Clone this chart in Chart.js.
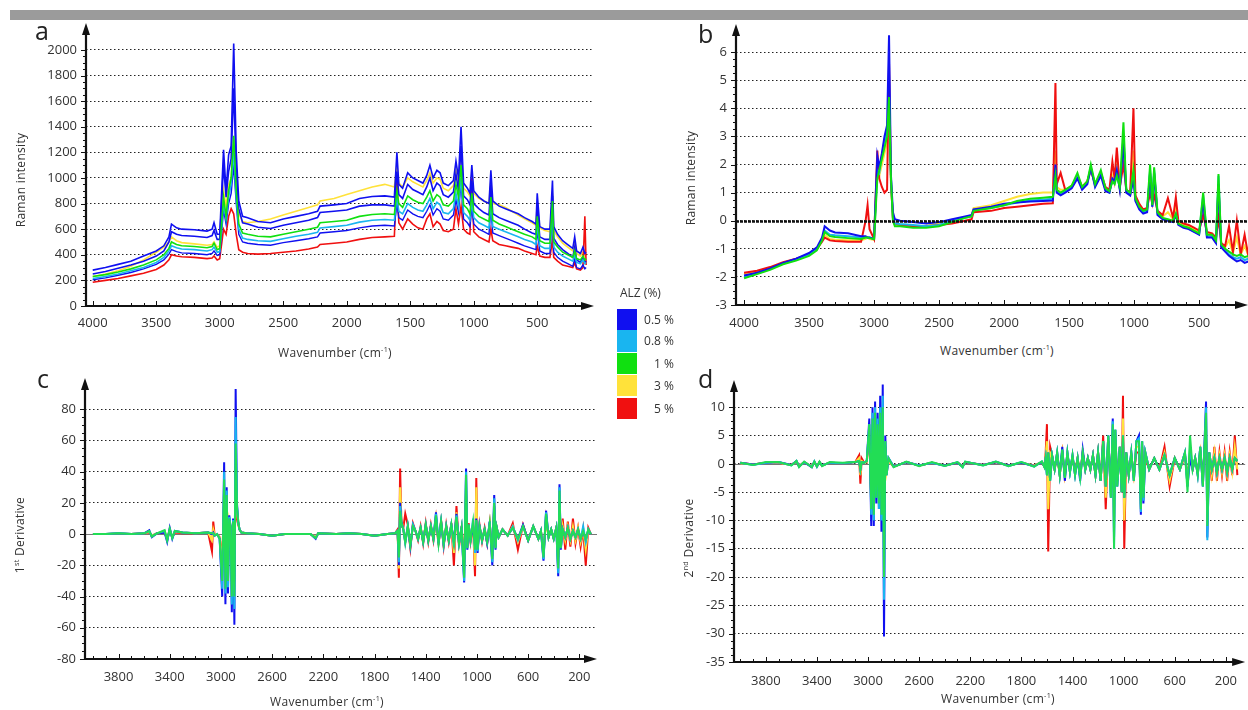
<!DOCTYPE html>
<html>
<head>
<meta charset="utf-8">
<script src="https://cdn.jsdelivr.net/npm/chart.js@4.4.1/dist/chart.umd.min.js"></script>
<style>
  html, body { margin:0; padding:0; background:#fff; }
  body { width:1248px; height:710px; position:relative; overflow:hidden; font-family:'Open Sans','DejaVu Sans',sans-serif; color:#333; }
  canvas { position:absolute; }
  .bar { position:absolute; left:10px; top:10px; width:1238px; height:10px; background:#9b9b9b; z-index:2; }
  .letter { position:absolute; font-size:25px; line-height:1; color:#222; }
  .ttl { position:absolute; font-size:12px; white-space:nowrap; transform:translate(-50%,-50%); color:#333; letter-spacing:0.3px; }
  .ttl.v { transform:translate(-50%,-50%) rotate(-90deg); }
  sup { font-size:0.6em; line-height:0; vertical-align:0.6em; }
  .lg-title { position:absolute; left:620px; top:284px; font-size:12px; }
  .lg-box { position:absolute; left:617px; width:20px; }
  .lg-txt { position:absolute; left:630px; width:44px; text-align:right; font-size:12px; }
</style>
</head>
<body>
<div class="bar"></div>
<canvas id="chart-a" width="610" height="340" style="left:0;top:0"></canvas>
<canvas id="chart-b" width="628" height="340" style="left:620px;top:0"></canvas>
<canvas id="chart-c" width="610" height="350" style="left:0;top:360px"></canvas>
<canvas id="chart-d" width="628" height="350" style="left:620px;top:360px"></canvas>

<div class="letter" style="left:35px;top:18px">a</div>
<div class="letter" style="left:698px;top:21px">b</div>
<div class="letter" style="left:37px;top:366px">c</div>
<div class="letter" style="left:698px;top:366px">d</div>

<div class="ttl v" style="left:20px;top:180px">Raman intensity</div>
<div class="ttl" style="left:335px;top:352px">Wavenumber (cm<sup>-1</sup>)</div>
<div class="ttl v" style="left:690px;top:178px">Raman intensity</div>
<div class="ttl" style="left:997px;top:350px">Wavenumber (cm<sup>-1</sup>)</div>
<div class="ttl v" style="left:19px;top:535px">1<sup>st</sup> Derivative</div>
<div class="ttl" style="left:327px;top:701px">Wavenumber (cm<sup>-1</sup>)</div>
<div class="ttl v" style="left:688px;top:538px">2<sup>nd</sup> Derivative</div>
<div class="ttl" style="left:998px;top:698px">Wavenumber (cm<sup>-1</sup>)</div>

<div id="legend"></div>

<script>
'use strict';

// ---- legend / series ----
const groups = ['0.5 %', '0.8 %', '1 %', '3 %', '5 %'];
const groupColors = ['#1010f0', '#19b5f0', '#10e010', '#ffe23a', '#f01010'];

// ---- ticks ----
const xTicksAB = [4000, 3500, 3000, 2500, 2000, 1500, 1000, 500];
const xTicksCD = [3800, 3400, 3000, 2600, 2200, 1800, 1400, 1000, 600, 200];
const yTicksA = [0, 200, 400, 600, 800, 1000, 1200, 1400, 1600, 1800, 2000];
const yTicksB = [-3, -2, -1, 0, 1, 2, 3, 4, 5, 6];
const yTicksC = [-80, -60, -40, -20, 0, 20, 40, 60, 80];
const yTicksD = [-35, -30, -25, -20, -15, -10, -5, 0, 5, 10];

// ---- panel a: raw spectra ----
const wnA = [
  4000, 3900, 3800, 3700, 3600, 3500, 3440, 3400, 3380, 3340,
  3300, 3200, 3100, 3060, 3045, 3020, 3000, 2970, 2950, 2930,
  2910, 2890, 2870, 2850, 2820, 2780, 2700, 2600, 2500, 2400,
  2300, 2230, 2210, 2100, 2000, 1900, 1800, 1700, 1625, 1605,
  1590, 1560, 1520, 1480, 1440, 1400, 1370, 1345, 1320, 1290,
  1265, 1240, 1200, 1160, 1140, 1120, 1100, 1080, 1050, 1030,
  1015, 1000, 960, 920, 880, 865, 850, 800, 750, 700,
  650, 600, 540, 510, 500, 480, 440, 400, 380, 370,
  340, 300, 260, 220, 205, 190, 160, 140, 125, 115
];
const rawBlue1 = [
  280, 300, 325, 350, 390, 430, 470, 540, 640, 610,
  600, 595, 585, 600, 650, 560, 560, 1220, 900, 1180,
  1250, 2050, 1200, 820, 700, 690, 660, 650, 680, 700,
  720, 740, 780, 790, 800, 840, 855, 860, 850, 1200,
  950, 920, 1040, 1000, 980, 960, 1020, 1100, 1000, 1060,
  1040, 960, 940, 980, 1130, 1000, 1400, 960, 920, 880,
  1100, 900, 850, 820, 800, 1060, 820, 780, 760, 740,
  720, 690, 660, 640, 880, 620, 600, 600, 980, 620,
  560, 510, 480, 450, 540, 430, 410, 460, 410, 420
];
const rawYellow = [
  230, 250, 275, 310, 360, 420, 460, 500, 540, 510,
  495, 485, 475, 480, 500, 460, 470, 900, 780, 950,
  1000, 1300, 950, 720, 660, 650, 660, 680, 710, 740,
  770, 790, 820, 840, 870, 900, 930, 950, 930, 1100,
  960, 930, 1000, 970, 950, 930, 980, 1040, 960, 1000,
  990, 920, 900, 940, 1060, 950, 1250, 920, 890, 860,
  1040, 880, 840, 820, 800, 980, 800, 790, 770, 740,
  710, 680, 650, 630, 800, 610, 590, 580, 880, 590,
  540, 490, 460, 430, 500, 410, 390, 420, 390, 400
];
const rawBlue2 = [
  250, 270, 295, 320, 350, 390, 430, 500, 580, 560,
  550, 545, 535, 550, 590, 520, 520, 1100, 850, 1050,
  1150, 1700, 1050, 760, 650, 640, 615, 605, 630, 650,
  670, 690, 730, 740, 750, 780, 790, 790, 780, 1050,
  870, 840, 950, 910, 890, 870, 930, 1000, 900, 960,
  940, 870, 850, 890, 1030, 900, 1250, 860, 830, 790,
  980, 800, 760, 730, 710, 950, 720, 690, 670, 650,
  630, 600, 570, 560, 780, 540, 520, 520, 860, 530,
  480, 440, 410, 380, 460, 360, 340, 380, 340, 350
];
const rawGreen = [
  230, 245, 265, 290, 320, 360, 400, 450, 500, 480,
  470, 465, 455, 465, 490, 440, 450, 850, 700, 900,
  1000, 1330, 900, 640, 570, 560, 545, 540, 560, 580,
  600, 615, 650, 660, 670, 700, 715, 720, 715, 900,
  800, 770, 860, 830, 810, 800, 850, 900, 820, 870,
  850, 790, 780, 820, 950, 850, 1100, 790, 760, 720,
  880, 740, 700, 680, 660, 850, 670, 640, 620, 600,
  580, 560, 540, 520, 700, 510, 490, 490, 820, 500,
  460, 420, 400, 380, 430, 370, 360, 390, 360, 370
];
const rawCyan = [
  215, 230, 250, 275, 300, 340, 380, 430, 470, 455,
  445, 440, 430, 440, 460, 420, 425, 800, 680, 850,
  950, 1200, 850, 600, 530, 520, 510, 505, 525, 545,
  560, 575, 610, 620, 630, 655, 670, 675, 670, 850,
  740, 720, 800, 770, 750, 740, 790, 840, 760, 810,
  790, 730, 720, 760, 880, 780, 1000, 730, 700, 670,
  820, 690, 650, 630, 610, 800, 620, 600, 580, 560,
  540, 520, 500, 480, 650, 470, 450, 450, 760, 460,
  420, 390, 370, 350, 400, 340, 330, 360, 330, 340
];
const rawBlue3 = [
  205, 220, 240, 262, 290, 325, 360, 405, 440, 425,
  415, 410, 400, 410, 430, 395, 400, 750, 640, 800,
  880, 1100, 800, 560, 500, 490, 480, 475, 495, 510,
  525, 540, 570, 580, 590, 610, 625, 630, 625, 800,
  690, 670, 750, 720, 700, 690, 740, 790, 710, 760,
  740, 680, 670, 710, 830, 730, 960, 680, 650, 620,
  770, 640, 600, 580, 560, 760, 570, 550, 530, 510,
  490, 470, 450, 440, 600, 430, 410, 410, 720, 420,
  380, 350, 330, 310, 370, 300, 290, 320, 290, 300
];
const rawRed = [
  185, 200, 215, 235, 255, 285, 320, 360, 400, 390,
  385, 380, 370, 375, 390, 360, 370, 600, 560, 700,
  760, 720, 560, 440, 420, 410, 405, 410, 420, 430,
  445, 460, 480, 490, 500, 520, 535, 540, 545, 1000,
  650, 600, 680, 640, 610, 600, 680, 720, 620, 660,
  640, 590, 580, 600, 760, 640, 780, 600, 570, 560,
  1000, 580, 540, 520, 500, 600, 510, 480, 470, 460,
  450, 430, 410, 400, 470, 390, 380, 380, 520, 380,
  350, 320, 310, 300, 340, 290, 280, 300, 700, 320
];

// ---- panel b: normalised spectra ----
const wnB = [
  4000, 3900, 3800, 3700, 3600, 3500, 3440, 3400, 3380, 3340,
  3300, 3200, 3100, 3065, 3050, 3035, 3000, 2975, 2960, 2940,
  2920, 2900, 2885, 2870, 2855, 2840, 2800, 2700, 2600, 2500,
  2400, 2300, 2250, 2235, 2100, 2000, 1900, 1800, 1700, 1625,
  1605, 1595, 1565, 1530, 1480, 1436, 1400, 1360, 1333, 1300,
  1256, 1220, 1190, 1167, 1150, 1133, 1110, 1082, 1060, 1030,
  1005, 990, 960, 930, 900, 877, 860, 846, 820, 780,
  740, 700, 679, 660, 620, 580, 540, 500, 469, 440,
  400, 370, 351, 330, 300, 270, 240, 210, 180, 150,
  120, 100, 80
];
const normBlue = [
  -1.95, -1.85, -1.7, -1.5, -1.35, -1.15, -0.95, -0.6, -0.2, -0.35,
  -0.42, -0.45, -0.55, -0.55, -0.6, -0.6, -0.65, 2.3, 1.9, 2.4,
  3.0, 3.4, 6.6, 1.6, 0.3, 0.05, 0.0, -0.05, -0.1, -0.05,
  0.05, 0.15, 0.2, 0.4, 0.5, 0.6, 0.65, 0.68, 0.7, 0.72,
  2.0, 1.0, 0.9, 1.0, 1.15, 1.5, 1.1, 1.3, 1.9, 1.2,
  1.6, 1.05, 1.0, 1.5, 1.4, 1.8, 1.1, 2.8, 1.0, 0.9,
  1.5, 0.7, 0.4, 0.25, 0.3, 1.7, 0.5, 1.7, 0.2, 0.05,
  0.0, -0.05, 0.2, -0.15, -0.25, -0.3, -0.4, -0.5, 0.7, -0.6,
  -0.6, -0.8, 1.3, -0.95, -1.1, -1.25, -1.35, -1.45, -1.4, -1.5,
  -1.45, -1.5, -1.55
];
const normCyan = [
  -2.0, -1.88, -1.72, -1.52, -1.38, -1.2, -1.0, -0.65, -0.35, -0.5,
  -0.52, -0.55, -0.6, -0.58, -0.6, -0.6, -0.65, 1.8, 1.7, 2.3,
  2.8, 3.2, 4.2, 1.5, 0.1, -0.1, -0.12, -0.15, -0.2, -0.15,
  0.0, 0.1, 0.15, 0.38, 0.45, 0.55, 0.65, 0.72, 0.75, 0.78,
  1.8, 1.05, 0.95, 1.05, 1.2, 1.55, 1.15, 1.35, 1.9, 1.25,
  1.7, 1.1, 1.0, 1.45, 1.35, 1.7, 1.15, 3.0, 1.05, 0.95,
  1.6, 0.75, 0.45, 0.3, 0.35, 1.8, 0.5, 1.8, 0.25, 0.08,
  0.02, -0.02, 0.22, -0.12, -0.22, -0.28, -0.38, -0.48, 0.9, -0.55,
  -0.55, -0.75, 1.6, -0.9, -1.05, -1.2, -1.3, -1.35, -1.3, -1.4,
  -1.35, -1.4, -1.45
];
const normGreen = [
  -2.05, -1.9, -1.75, -1.55, -1.42, -1.25, -1.05, -0.7, -0.4, -0.55,
  -0.58, -0.62, -0.65, -0.6, -0.6, -0.62, -0.65, 1.5, 1.8, 2.2,
  2.6, 3.0, 4.4, 1.5, 0.0, -0.2, -0.2, -0.25, -0.25, -0.2,
  -0.05, 0.1, 0.15, 0.35, 0.45, 0.55, 0.7, 0.78, 0.82, 0.85,
  1.6, 1.1, 1.0, 1.1, 1.25, 1.7, 1.2, 1.4, 2.0, 1.3,
  1.8, 1.15, 1.05, 1.4, 1.3, 1.6, 1.2, 3.5, 1.1, 1.0,
  1.8, 0.8, 0.5, 0.35, 0.4, 2.0, 0.55, 1.9, 0.3, 0.1,
  0.05, 0.0, 0.25, -0.1, -0.2, -0.25, -0.35, -0.45, 1.0, -0.5,
  -0.5, -0.7, 1.66, -0.85, -1.0, -1.1, -1.2, -1.25, -1.2, -1.3,
  -1.25, -1.3, -1.35
];
const normYellow = [
  -1.9, -1.8, -1.68, -1.5, -1.36, -1.18, -1.0, -0.7, -0.5, -0.65,
  -0.68, -0.7, -0.7, -0.65, -0.6, -0.65, -0.68, 2.0, 1.6, 2.0,
  2.4, 2.8, 4.0, 1.4, 0.05, -0.15, -0.18, -0.2, -0.18, -0.1,
  0.0, 0.12, 0.18, 0.45, 0.55, 0.7, 0.85, 0.95, 1.0, 1.0,
  2.5, 1.2, 1.1, 1.1, 1.25, 1.6, 1.2, 1.4, 1.85, 1.3,
  1.7, 1.15, 1.05, 1.6, 1.4, 1.9, 1.15, 2.8, 1.05, 0.95,
  2.5, 0.85, 0.55, 0.4, 0.42, 1.5, 0.6, 1.5, 0.3, 0.15,
  0.3, 0.05, 0.5, -0.05, -0.15, -0.2, -0.3, -0.4, 0.6, -0.45,
  -0.5, -0.65, 1.2, -0.8, -0.95, -0.7, -1.15, -0.6, -1.2, -0.9,
  -1.25, -0.5, -1.3
];
const normRed = [
  -1.85, -1.78, -1.65, -1.48, -1.35, -1.2, -1.0, -0.75, -0.6, -0.7,
  -0.72, -0.75, -0.75, 0.0, 0.55, -0.3, -0.65, 2.5, 1.5, 1.2,
  1.0, 1.1, 5.6, 1.3, 0.1, -0.1, -0.15, -0.2, -0.2, -0.15,
  -0.1, 0.0, 0.05, 0.3, 0.35, 0.45, 0.5, 0.55, 0.6, 0.62,
  4.9, 1.3, 1.7, 1.1, 1.2, 1.6, 1.2, 1.4, 1.8, 1.3,
  1.7, 1.2, 1.1, 2.1, 1.5, 2.6, 1.2, 2.0, 1.1, 1.0,
  4.0, 0.9, 0.6, 0.4, 0.45, 1.0, 0.6, 0.9, 0.35, 0.2,
  0.8, 0.1, 0.83, 0.0, -0.1, -0.15, -0.25, -0.35, 0.2, -0.4,
  -0.45, -0.6, 0.1, -0.8, -0.9, -0.2, -1.1, 0.0, -1.2, -0.5,
  -1.3, 1.0, -1.3
];

// ---- panels c, d: derivatives (shared wavenumber grid) ----
const wnDeriv = [
  4000, 3900, 3800, 3700, 3600, 3560, 3540, 3500, 3440, 3420,
  3400, 3380, 3360, 3300, 3200, 3100, 3070, 3060, 3050, 3030,
  3010, 2990, 2975, 2965, 2955, 2945, 2935, 2925, 2915, 2905,
  2895, 2885, 2875, 2865, 2855, 2840, 2800, 2700, 2600, 2500,
  2400, 2300, 2260, 2240, 2100, 2000, 1900, 1800, 1700, 1640,
  1620, 1610, 1600, 1590, 1575, 1560, 1540, 1520, 1500, 1480,
  1460, 1440, 1420, 1400, 1380, 1360, 1340, 1320, 1300, 1280,
  1260, 1240, 1220, 1200, 1180, 1160, 1140, 1120, 1100, 1085,
  1075, 1065, 1050, 1030, 1015, 1005, 995, 980, 960, 940,
  920, 900, 880, 865, 855, 845, 830, 800, 760, 720,
  680, 640, 600, 560, 520, 500, 480, 460, 440, 420,
  400, 380, 365, 355, 345, 330, 310, 290, 270, 250,
  230, 210, 190, 170, 150, 130, 110
];
const d1Blue = [
  0, 0, 0.5, 0, 0.5, 2.5, -2, 0.5, 1, -5,
  4, -3, 2, 1, 0.5, 1, 0, 1, -1, 0,
  -3, -40, 46, -45, 30, -38, 12, 5, -50, 10,
  -58, 93, 20, 8, 3, 1, 0.5, 0, -1, 0,
  0, 0, -3, 0.5, 0, 0.5, 0, -1, 0, 0.5,
  2, -20, 20, 8, 3, -5, 5, -8, 6, 2,
  -3, 4, -5, 6, -4, 5, -3, 14, -6, 8,
  -7, 5, -4, 6, -5, 13, -6, 4, -31, 42,
  -10, 6, -4, 5, -8, 10, -12, 5, -4, 3,
  -6, 8, -20, 25, -10, 4, -2, 3, -1, 4,
  -3, 6, -4, 5, -3, 2, -17, 15, -2, 3,
  -3, 4, -27, 32, -10, 3, -2, 4, -3, 2,
  -2, 3, -3, 2, -4, 3, 0
];
const d1Cyan = [
  0, 0, 0.5, 0, 0.5, 2, -1.5, 0.5, 2, -4,
  3, -2.5, 2, 1, 0.5, 1, 0.5, 0.5, -1, 0,
  -3, -35, 40, -38, 28, -34, 11, 5, -45, 9,
  -48, 75, 18, 8, 3, 1, 0.5, 0, -1, 0,
  0, 0, -2.5, 0.5, 0, 0.5, 0, -1, 0, 0.5,
  2, -18, 18, 7, 3, -6, 5, -7, 6, 2,
  -3, 4, -5, 6, -4, 5, -3, 13, -6, 8,
  -7, 5, -4, 6, -8, 12, -6, 4, -30, 40,
  -9, 6, -4, 10, -12, 9, -11, 5, -4, 3,
  -5, 8, -18, 23, -9, 4, -2, 3, -1, 5,
  -4, 5, -4, 5, -3, 2, -16, 14, -2, 3,
  -3, 4, -25, 30, -9, 3, -2, 4, -3, 2,
  -2, 3, -3, 5, -5, 3, 0
];
const d1Green = [
  0, 0, 0.5, 0, 0.5, 2, -1.5, 0.5, 2.5, -4,
  3.5, -2.5, 2, 1, 0.5, 1, 0.5, 0.5, -1, 0,
  -3, -30, 35, -35, 25, -30, 10, 5, -40, 8,
  -40, 58, 18, 8, 3, 1, 0.5, 0, -1, 0,
  0, 0, -2.5, 0.5, 0, 0.5, 0, -1, 0, 0.5,
  2, -15, 15, 7, 3, -5, 5, -7, 5, 2,
  -3, 4, -5, 6, -4, 5, -3, 12, -6, 8,
  -6, 5, -4, 6, -6, 11, -6, 4, -28, 38,
  -9, 6, -4, 8, -10, 9, -10, 5, -4, 3,
  -5, 7, -16, 20, -9, 4, -2, 3, -1, 4,
  -3, 5, -4, 5, -3, 2, -15, 13, -2, 3,
  -3, 4, -22, 28, -9, 3, -2, 4, -3, 2,
  -2, 3, -3, 2, -3, 3, 0
];
const d1Yellow = [
  0, 0, 0.5, 0, 0.5, 1.5, -1, 0.5, 2, -3,
  3, -2, 1.5, 1, 0.5, 1, -4, 3, 0, 0,
  -2, -20, 28, -30, 18, -25, 9, 5, -30, 8,
  -30, 45, 14, 7, 3, 1, 0.5, 0, -1, 0,
  0, 0, -2, 0.5, 0, 0.5, 0, -1, 0, 0.5,
  2, -22, 30, 10, 3, -6, 5, -8, 6, 2,
  -3, 4, -5, 6, -4, 5, -3, 10, -6, 8,
  -7, 5, -4, 6, -12, 14, -7, 4, -20, 30,
  -8, 6, -4, 5, -20, 30, -10, 5, -4, 3,
  -5, 6, -12, 16, -8, 4, -2, 3, -1, 5,
  -5, 5, -4, 5, -3, 2, -10, 9, -2, 3,
  -3, 4, -14, 16, -7, 5, -4, 5, -4, 5,
  -4, 4, -5, 3, -10, 3, 0
];
const d1Red = [
  0, 0, 0, 0, 0.5, 1, -1, 0.5, 1, -3,
  2, -2, 1, 0.5, 0.5, 1, -11, 8, 0, 0,
  -2, -15, 20, -25, 10, -20, 8, 5, -20, 8,
  -20, 30, 10, 6, 3, 1, 0.5, 0, -1, 0,
  0, 0, -2, 0.5, 0, 0.5, 0, -1, 0, 0.5,
  3, -28, 42, 5, 4, 13, 6, -9, 7, 2,
  -4, 5, -6, 7, -5, 6, -4, 10, -7, 9,
  -8, 6, -5, 7, -20, 18, -8, 5, -18, 25,
  -8, 7, -5, 6, -27, 36, -10, 6, -5, 4,
  -6, 7, -14, 18, -8, 4, -2, 3, -1, 7,
  -10, 6, -4, 5, -3, 2, -12, 10, -2, 3,
  -3, 4, -15, 18, -6, 10, -10, 8, -8, 10,
  -6, 4, -8, 3, -20, 4, 0
];
const d2Blue = [
  0.2, -0.1, 0.2, 0.3, -0.2, 0.5, -0.5, 0.3, -0.6, 0.4,
  -0.5, 0.3, -0.3, 0.2, 0.1, 0.3, 0.5, -1, 0.3, 0.2,
  0.5, 8, -11, 10, -11, 11, -7, 9, -8, 12,
  -12, 14, -30.5, 5, -2, 1, -0.5, 0.3, -0.3, 0.2,
  -0.3, 0.2, -0.5, 0.3, -0.2, 0.3, -0.3, 0.2, -0.4, 0.3,
  -0.5, 1, -2, 2, -3, 1.5, -1, 2, -2, 3,
  -3, 2, -1.5, 1.5, -2, 1, -3, 2.5, -1, 1,
  -1, 1.5, -2, 2, -3, 4, -4, 5, -6, 8,
  -13, 6, -4, 3, -5, 5, -6, 2, -2, 2,
  -3, 4, 5, -9, 4, -7, 2, -1, 1, -1,
  1.5, -2, 1, -1, 2, -4, 1, -1, 1, -2,
  3, -4, 5, 11, -13, 2, -1, 1, -1.5, 1,
  -1, 1, -1.5, 1, -1, 1, 0.5
];
const d2Cyan = [
  0.2, -0.2, 0.2, 0.3, -0.3, 0.5, -0.5, 0.3, -0.5, 0.4,
  -0.5, 0.3, -0.3, 0.2, 0.1, 0.3, 0.5, -1, 0.3, 0.2,
  0.5, 7, -9, 9, -10, 10, -6, 8, -8, 10,
  -10, 12, -24, 4, -2, 1, -0.5, 0.3, -0.3, 0.2,
  -0.4, 0.3, -0.6, 0.4, -0.3, 0.4, -0.4, 0.3, -0.5, 0.4,
  -0.5, 1, -2, 2, -3, 1.5, -1, 2, -2, 2.5,
  -2.5, 2, -1.5, 1.5, -2, 1, -2.5, 2, -1, 1,
  -1, 1.5, -2, 2, -3, 4, -4, 5, -6, 7.5,
  -15, 6, -4, 3, -5, 5, -6, 2, -2, 2,
  -3, 4, 4.5, -8.5, 4, -6.5, 2, -1, 1, -1,
  1.5, -2, 1, -1, 2, -4, 3, -1, 1, -2,
  3, -4, 4, 10, -13.5, 2, -1, 1, -1.5, 1,
  -1, 1, -1.5, 1, -1, 1, 0.5
];
const d2Green = [
  0.2, -0.2, 0.3, 0.3, -0.3, 0.5, -0.6, 0.4, -0.6, 0.4,
  -0.5, 0.4, -0.4, 0.3, 0.2, 0.3, 0.5, -1, 0.3, 0.2,
  0.5, 7, -8, 8, -9, 9, -6, 7, -7, 9,
  -9, 10, -20, 4, -2, 1, -0.6, 0.4, -0.4, 0.3,
  -0.4, 0.3, -0.6, 0.4, -0.3, 0.4, -0.4, 0.3, -0.5, 0.4,
  -0.6, 1, -2, 2, -3, 1.5, -1, 2, -2, 2.5,
  -2.5, 2, -1.5, 1.5, -2, 1, -2.5, 2, -1, 1,
  -1, 1.5, -2, 2, -3, 4, -4, 5, -6, 7,
  -15, 6, -4, 3, -5, 5, -6, 2, -2, 2,
  -3, 4, 4, -8, 4, -6, 2, -1, 1, -1,
  1.5, -2, 1, -1, 2, -5, 5, -1, 1, -2,
  3, -4, 4, 9, -11, 2, -1, 1, -1.5, 1,
  -1, 1, -1.5, 1, -1, 1, 0.5
];
const d2Yellow = [
  0.1, -0.1, 0.2, 0.2, -0.2, 0.4, -0.4, 0.3, -0.4, 0.3,
  -0.4, 0.3, -0.3, 0.2, 0.1, 0.3, 1, -2, 0.5, 0.2,
  0.3, 6, -7, 7, -8, 7, -5, 6, -6, 8,
  -7, 8, -15, 3, -1.5, 0.5, -0.5, 0.3, -0.3, 0.2,
  -0.3, 0.2, -0.4, 0.3, -0.2, 0.3, -0.3, 0.2, -0.3, 0.3,
  -0.5, 1.5, 4, -8, 2, 1.5, -1, 1.5, -2, 2,
  -2, 1.5, -1, 1, -1.5, 1, -2, 2, -1, 1,
  -1, 1.5, -2, 2, -3, 4, -6, 4, -4, 5,
  -10, 5, -3, 3, -5, 8, -10, 2, -2, 1.5,
  -2, 3, 3, -6, 3, -5, 1.5, -1, 1, -1,
  2, -3, 1, -1, 1.5, -3, 2, -1, 1, -1.5,
  2, -3, 3, 6, -8, 2, -2, 2, -2, 1.5,
  -1.5, 1.5, -2, 1.5, -1.5, 3, -1
];
const d2Red = [
  0.2, -0.1, 0.2, 0.2, -0.2, 0.4, -0.4, 0.3, -0.5, 0.3,
  -0.4, 0.3, -0.3, 0.2, 0.1, 0.3, 1.5, -3.5, 1, 0.2,
  0.3, 5, -6, 6, -7, 6, -4, 5, -5, 7,
  -6, 7, -12, 3, -1, 0.5, -0.5, 0.3, -0.3, 0.2,
  -0.3, 0.2, -0.4, 0.3, -0.2, 0.3, -0.3, 0.2, -0.3, 0.3,
  -0.5, 2, 7, -15.5, 3, 1.5, -1, 1.5, -2, 2,
  -2, 1.5, -1, 1, -1.5, 1, -2, 2, -1, 1,
  -1, 1.5, -2, 2, -3, 5, -8, 4, -3, 4,
  -6, 4, -3, 3, -5, 12, -15, 2, -2, 1.5,
  -2, 2, 2, -4, 3, -3, 1, -1, 1, -1,
  3, -4, 1, -1, 1.5, -2, 1, -1, 1, -1.5,
  2, -2, 2, 4, -5, 2, -3, 3, -3, 2,
  -2, 2, -3, 2, -2, 5, -2
];

// ---------------------------------------------------------------
const BLUE = groupColors[0], CYAN = groupColors[1], GREEN = groupColors[2], YELLOW = groupColors[3], RED = groupColors[4];
const MINT = '#22dd55';

const xy = (wn, vals) => wn.map((w, i) => ({ x: w, y: vals[i] }));
const line = (wn, vals, color, width) => ({
  data: xy(wn, vals), borderColor: color, borderWidth: width,
  pointRadius: 0, fill: false, tension: 0, spanGaps: true,
});

function zeroLine(chart, z) {
  const { ctx, chartArea: a, scales: { y } } = chart;
  const zy = Math.round(y.getPixelForValue(0)) + 0.5;
  ctx.save();
  ctx.strokeStyle = z.color; ctx.lineWidth = z.width; ctx.setLineDash(z.dash || []);
  ctx.beginPath(); ctx.moveTo(a.left, zy); ctx.lineTo(a.right, zy); ctx.stroke();
  ctx.restore();
}

// black axes with arrow heads and small ruler ticks, as in the figure
const axisArrows = {
  id: 'axisArrows',
  beforeDatasetsDraw(chart, args, o) {
    if (o.zero && !o.zero.front) zeroLine(chart, o.zero);
  },
  afterDatasetsDraw(chart, args, o) {
    const { ctx, chartArea: a, scales: { x, y } } = chart;
    if (o.zero && o.zero.front) zeroLine(chart, o.zero);
    ctx.save();
    ctx.strokeStyle = '#111'; ctx.fillStyle = '#111'; ctx.lineWidth = 1;
    const yLast = o.yTicks[o.yTicks.length - 1];
    for (let i = 0; ; i++) {
      const v = o.yTicks[0] + i * o.yMinor;
      if (v > yLast + 1e-9) break;
      const py = Math.round(y.getPixelForValue(v)) + 0.5;
      const major = o.yTicks.some(t => Math.abs(t - v) < 1e-9);
      ctx.beginPath(); ctx.moveTo(a.left - (major ? 5 : 3), py); ctx.lineTo(a.left, py); ctx.stroke();
    }
    for (let v = 100; v < x.max; v += 100) {
      const px = Math.round(x.getPixelForValue(v)) + 0.5;
      if (px < a.left || px > a.right - 12) continue;
      const major = o.xTicks.includes(v);
      ctx.beginPath(); ctx.moveTo(px, a.bottom); ctx.lineTo(px, a.bottom - (major ? 5 : 3)); ctx.stroke();
    }
    ctx.lineWidth = 2.2;
    ctx.beginPath(); ctx.moveTo(a.left, a.bottom + 1); ctx.lineTo(a.left, a.top + 8); ctx.stroke();
    ctx.beginPath(); ctx.moveTo(a.left, a.top); ctx.lineTo(a.left - 4, a.top + 12); ctx.lineTo(a.left + 4, a.top + 12); ctx.closePath(); ctx.fill();
    ctx.beginPath(); ctx.moveTo(a.left - 1, a.bottom); ctx.lineTo(a.right - 8, a.bottom); ctx.stroke();
    ctx.beginPath(); ctx.moveTo(a.right, a.bottom); ctx.lineTo(a.right - 13, a.bottom - 4); ctx.lineTo(a.right - 13, a.bottom + 4); ctx.closePath(); ctx.fill();
    ctx.restore();
  }
};

function makeChart(id, c) {
  return new Chart(document.getElementById(id), {
    type: 'line',
    data: { datasets: c.datasets },
    options: {
      responsive: false, animation: false, devicePixelRatio: 1,
      layout: { padding: c.pad },
      plugins: {
        legend: { display: false }, tooltip: { enabled: false },
        axisArrows: { xTicks: c.xTicks, yTicks: c.yTicks, yMinor: c.yMinor, zero: c.zero },
      },
      scales: {
        x: {
          type: 'linear', reverse: true, min: c.xMin, max: c.xMax,
          afterFit: s => { s.height = c.xH; },
          afterBuildTicks: s => { s.ticks = c.xTicks.map(v => ({ value: v })); },
          grid: { display: false, drawTicks: false }, border: { display: false },
          ticks: { autoSkip: false, maxRotation: 0, padding: c.xPad, color: '#333', font: { size: 13 }, callback: v => String(v) },
        },
        y: {
          type: 'linear', min: c.yMin, max: c.yMax,
          afterFit: s => { s.width = c.yW; },
          afterBuildTicks: s => { s.ticks = c.yTicks.map(v => ({ value: v })); },
          grid: { drawTicks: false, lineWidth: 1, color: g => (g.tick && g.tick.value === c.yMin) ? 'rgba(0,0,0,0)' : '#222' },
          border: { display: false, dash: [1.5, 2.5] },
          ticks: { autoSkip: false, padding: 9, color: '#333', font: { size: 13 }, callback: v => String(v) },
        },
      },
    },
    plugins: [axisArrows],
  });
}

function buildLegend() {
  const box = document.getElementById('legend');
  const tops = [309, 330, 353, 375, 398];
  let html = '<div class="lg-title">ALZ (%)</div>';
  groups.forEach((g, i) => {
    html += `<div class="lg-box" style="top:${tops[i]}px;height:${i === 1 ? 22 : 21}px;background:${groupColors[i]}"></div>`;
    html += `<div class="lg-txt" style="top:${tops[i] + 2}px">${g}</div>`;
  });
  box.innerHTML = html;
}

function init() {
  Chart.defaults.font.family = "'Open Sans','DejaVu Sans',sans-serif";

  makeChart('chart-a', {
    pad: { left: 0, top: 23, right: 16, bottom: 0 }, yW: 86, xH: 34, xPad: 9,
    xMin: 53, xMax: 4053, yMin: 0, yMax: 2210, xTicks: xTicksAB, yTicks: yTicksA, yMinor: 50,
    datasets: [
      line(wnA, rawGreen, GREEN, 1.6),
      line(wnA, rawBlue1, BLUE, 1.6),
      line(wnA, rawCyan, CYAN, 1.6),
      line(wnA, rawBlue2, BLUE, 1.6),
      line(wnA, rawBlue3, BLUE, 1.4),
      line(wnA, rawRed, RED, 1.6),
      line(wnA, rawYellow, YELLOW, 1.6),
    ],
  });

  makeChart('chart-b', {
    pad: { left: 0, top: 24, right: 0, bottom: 0 }, yW: 116, xH: 35, xPad: 10,
    xMin: 124, xMax: 4062, yMin: -3, yMax: 7, xTicks: xTicksAB, yTicks: yTicksB, yMinor: 0.25,
    zero: { color: '#111', width: 2.5, dash: [3, 1], front: true },
    datasets: [
      line(wnB, normGreen, GREEN, 2),
      line(wnB, normBlue, BLUE, 2),
      line(wnB, normCyan, CYAN, 2),
      line(wnB, normRed, RED, 2),
      line(wnB, normYellow, YELLOW, 2),
    ],
  });

  makeChart('chart-c', {
    pad: { left: 0, top: 18, right: 13, bottom: 0 }, yW: 85, xH: 51, xPad: 10,
    xMin: 62, xMax: 4062, yMin: -80, yMax: 100, xTicks: xTicksCD, yTicks: yTicksC, yMinor: 5,
    zero: { color: '#777', width: 1.2 },
    datasets: [
      line(wnDeriv, d1Green, MINT, 2),
      line(wnDeriv, d1Cyan, CYAN, 2),
      line(wnDeriv, d1Blue, BLUE, 2),
      line(wnDeriv, d1Yellow, YELLOW, 2),
      line(wnDeriv, d1Red, RED, 2),
    ],
  });

  makeChart('chart-d', {
    pad: { left: 0, top: 20, right: 0, bottom: 0 }, yW: 114, xH: 48, xPad: 11,
    xMin: 49, xMax: 4049, yMin: -35, yMax: 14.8, xTicks: xTicksCD, yTicks: yTicksD, yMinor: 1.25,
    zero: { color: '#777', width: 1.2 },
    datasets: [
      line(wnDeriv, d2Green, MINT, 2),
      line(wnDeriv, d2Cyan, CYAN, 2),
      line(wnDeriv, d2Blue, BLUE, 2),
      line(wnDeriv, d2Yellow, YELLOW, 2),
      line(wnDeriv, d2Red, RED, 2),
    ],
  });

  buildLegend();
}

document.addEventListener('DOMContentLoaded', init);
</script>
</body>
</html>
